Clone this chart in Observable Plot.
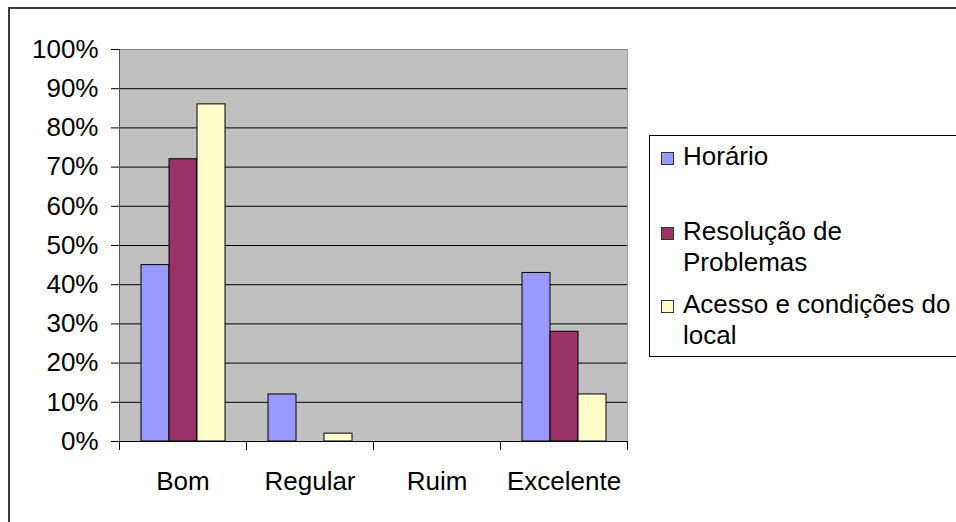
<!DOCTYPE html>
<html><head><meta charset="utf-8">
<script src="https://cdn.jsdelivr.net/npm/d3@7"></script>
<script src="https://cdn.jsdelivr.net/npm/@observablehq/plot@0.6"></script>
<style>
body{margin:0;background:#fff;}
#wrap{position:relative;width:956px;height:522px;overflow:hidden;font-family:"Liberation Sans",Arial,sans-serif;background:#fff;}
#wrap svg{position:absolute;left:0;top:0;}
#border{position:absolute;left:8px;top:7px;width:1200px;height:800px;border-top:2px solid #3c3c3c;border-left:2px solid #3c3c3c;z-index:2;}
#legend{position:absolute;left:649px;top:135px;width:400px;height:220px;border:1px solid #000;background:#fff;z-index:3;}
.sw{position:absolute;left:11px;width:11px;height:11px;border:1px solid #333;}
.lbl{position:absolute;left:33px;font-size:26px;line-height:31px;white-space:nowrap;color:#000;}
</style></head>
<body>
<div id="wrap"><div id="border"></div><div id="legend"></div></div>
<script>
const categories = ["Bom", "Regular", "Ruim", "Excelente"];
const series = ["Horário", "Resolução de Problemas", "Acesso e condições do local"];
const horario = [0.45, 0.12, 0, 0.43];
const resolucao = [0.72, 0, 0, 0.28];
const acesso = [0.86, 0.02, 0, 0.12];
const colors = ["#9999FF", "#993366", "#FFFFCC"];
const yTicks = [0, 0.1, 0.2, 0.3, 0.4, 0.5, 0.6, 0.7, 0.8, 0.9, 1];
const legendLines = [["Horário"], ["Resolução de", "Problemas"], ["Acesso e condições do", "local"]];

const seriesValues = [horario, resolucao, acesso];
const data = series.flatMap((s, i) => categories.map((c, j) => ({cat: c, series: s, value: seriesValues[i][j]})));

const W = 956, H = 522, mT = 49, mB = 81, mL = 118, mR = 328;
const innerH = H - mT - mB;

const chart = Plot.plot({
  width: W, height: H,
  marginTop: mT, marginBottom: mB, marginLeft: mL, marginRight: mR,
  style: {fontFamily: "Liberation Sans, Arial, sans-serif", fontSize: "26px", color: "#000", background: "transparent", overflow: "visible"},
  fx: {domain: categories, padding: 0, label: null},
  x: {domain: series, paddingInner: 0, paddingOuter: 0.74, axis: null},
  y: {domain: [0, 1], label: null},
  color: {domain: series, range: colors},
  marks: [
    Plot.frame({fill: "#C0C0C0", facet: "super"}),
    Plot.ruleY(yTicks, {stroke: "#000"}),
    Plot.ruleY([1], {stroke: "#808080"}),
    Plot.barY(data, {fx: "cat", x: "series", y: "value", fill: "series", stroke: "#000", strokeWidth: 1}),
    Plot.frame({facet: "super", anchor: "right", stroke: "#a0a0a0"}),
    Plot.frame({facet: "super", anchor: "left", stroke: "#555"}),
    Plot.ruleY([0], {stroke: "#000"}),
    Plot.axisY({ticks: yTicks, tickFormat: d3.format(".0%"), tickSize: 8, tickPadding: 13, fontSize: 26, label: null}),
    Plot.axisFx({anchor: "bottom", tickSize: 0, tickPadding: 30, fontSize: 26, label: null}),
    Plot.frame({anchor: "left", insetTop: innerH, insetBottom: -8, stroke: "#000"}),
    Plot.frame({anchor: "right", insetTop: innerH, insetBottom: -8, stroke: "#000"})
  ]
});
const wrap = document.getElementById("wrap");
wrap.insertBefore(chart, wrap.firstChild);

// legend
const legend = document.getElementById("legend");
const lblTops = [4.5, 79.5, 152.5];
const swTops = [16, 91, 164];
series.forEach((s, i) => {
  const sw = document.createElement("div");
  sw.className = "sw";
  sw.style.top = swTops[i] + "px";
  sw.style.background = colors[i];
  legend.appendChild(sw);
  const lb = document.createElement("div");
  lb.className = "lbl";
  lb.style.top = lblTops[i] + "px";
  lb.innerHTML = legendLines[i].join("<br>");
  legend.appendChild(lb);
});
</script>
</body></html>
